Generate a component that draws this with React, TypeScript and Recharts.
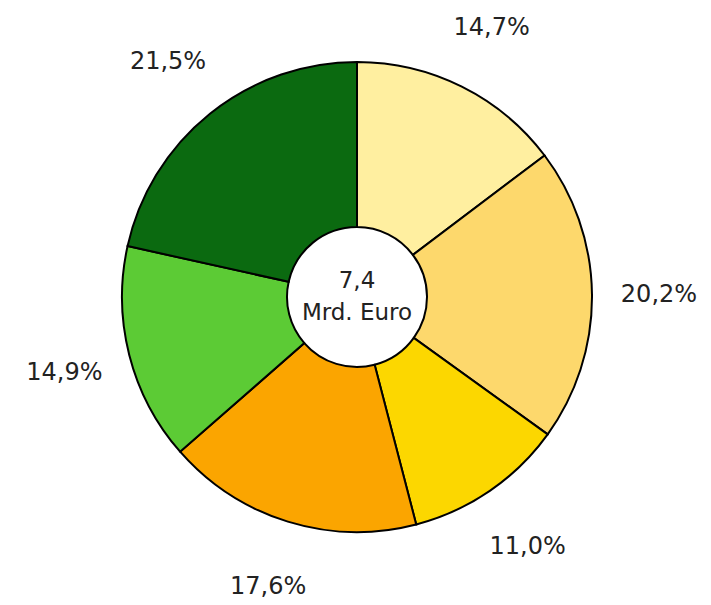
import { PieChart, Pie, Cell, Label } from "recharts";

const shares = [14.7, 20.2, 11.0, 17.6, 14.9, 21.5];
const shareLabels = ["14,7%", "20,2%", "11,0%", "17,6%", "14,9%", "21,5%"];
const colors = ["#FFEFA0", "#FDD86C", "#FCD700", "#FBA500", "#5CCB35", "#0B6A10"];
const centerLines = ["7,4", "Mrd. Euro"];

const data = shares.map((value, i) => ({ name: shareLabels[i], value }));

const CX = 357;
const CY = 297;
const RAD = Math.PI / 180;
const FONT = "'DejaVu Sans', sans-serif";

function renderLabel(props: any) {
  const { cx, cy, midAngle, index } = props;
  const r = 302;
  const x = cx + r * Math.cos(-midAngle * RAD);
  const y = cy + r * Math.sin(-midAngle * RAD);
  return (
    <text
      x={x}
      y={y}
      textAnchor="middle"
      dominantBaseline="central"
      fill="#222"
      fontSize={24}
      fontFamily={FONT}
    >
      {shareLabels[index]}
    </text>
  );
}

export default function App() {
  return (
    <div style={{ position: "absolute", left: 0, top: 0, background: "#fff" }}>
      <PieChart width={711} height={605} margin={{ top: 0, right: 0, bottom: 0, left: 0 }}>
        <Pie
          data={data}
          dataKey="value"
          cx={CX}
          cy={CY}
          innerRadius={70}
          outerRadius={235}
          startAngle={90}
          endAngle={-270}
          stroke="#000"
          strokeWidth={2}
          label={renderLabel}
          labelLine={false}
          isAnimationActive={false}
        >
          {data.map((entry, index) => (
            <Cell key={`cell-${index}`} fill={colors[index]} />
          ))}
          <Label
            position="center"
            content={() => (
              <text textAnchor="middle" fill="#222" fontSize={23} fontFamily={FONT}>
                <tspan x={CX} y={CY - 17} dominantBaseline="central">{centerLines[0]}</tspan>
                <tspan x={CX} y={CY + 15} dominantBaseline="central">{centerLines[1]}</tspan>
              </text>
            )}
          />
        </Pie>
      </PieChart>
    </div>
  );
}
